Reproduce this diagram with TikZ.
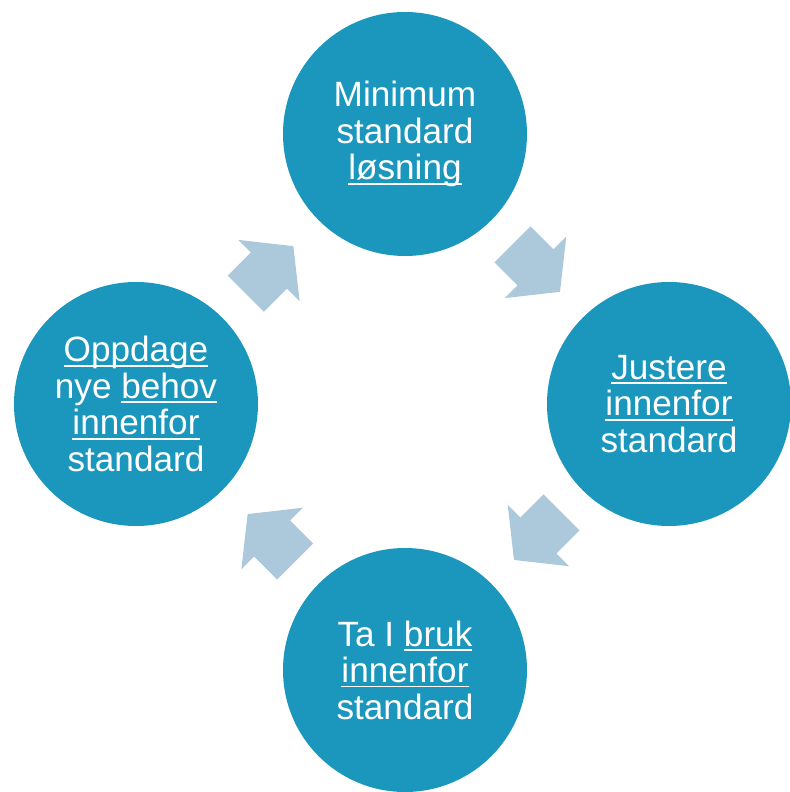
\documentclass[tikz,border=0pt]{standalone}
\usepackage{fontspec}
\setmainfont{Liberation Sans}
\usepackage{tikz}
\usetikzlibrary{shapes,calc}
\usepackage{xcolor}
\definecolor{cyblue}{RGB}{27,150,189}
\definecolor{cylightblue}{RGB}{172,200,219}
\newcommand{\wul}[1]{\leavevmode\setbox0\hbox{#1}\rlap{#1}\rule[-3.5pt]{\wd0}{1.3pt}}
\tikzstyle{stage} = [circle, minimum size=6.1cm, inner sep=0pt, fill=cyblue, text=white, align=center, font=\fontsize{25}{26}\selectfont]
\tikzstyle{cyarrow} = [single arrow, fill=cylightblue, minimum height=1.68cm, inner xsep=0pt, inner ysep=0.63cm, single arrow head extend=0.45cm, single arrow tip angle=103]

\begin{document}
\begin{tikzpicture}
\useasboundingbox (-10.125,-9.7) rectangle (9.625,10.1);
% Cycle nodes
\node (minimum) [stage] at (0,6.75) {Minimum\\standard\\\wul{løsning}};
\node (justere) [stage] at (6.6,0) {\wul{Justere}\\\wul{innenfor}\\standard};
\node (bruk) [stage] at (0,-6.65) {Ta I \wul{bruk}\\\wul{innenfor}\\standard};
\node (oppdage) [stage] at (-6.725,0) {\wul{Oppdage}\\nye \wul{behov}\\\wul{innenfor}\\standard};

% Block arrows between the stages
\node (a1) [cyarrow, rotate=-45] at ($(minimum)!0.47!(justere)$) {};
\node (a2) [cyarrow, rotate=-135] at ($(justere)!0.47!(bruk)$) {};
\node (a3) [cyarrow, rotate=135] at ($(bruk)!0.47!(oppdage)$) {};
\node (a4) [cyarrow, rotate=45] at ($(oppdage)!0.47!(minimum)$) {};
\end{tikzpicture}
\end{document}
